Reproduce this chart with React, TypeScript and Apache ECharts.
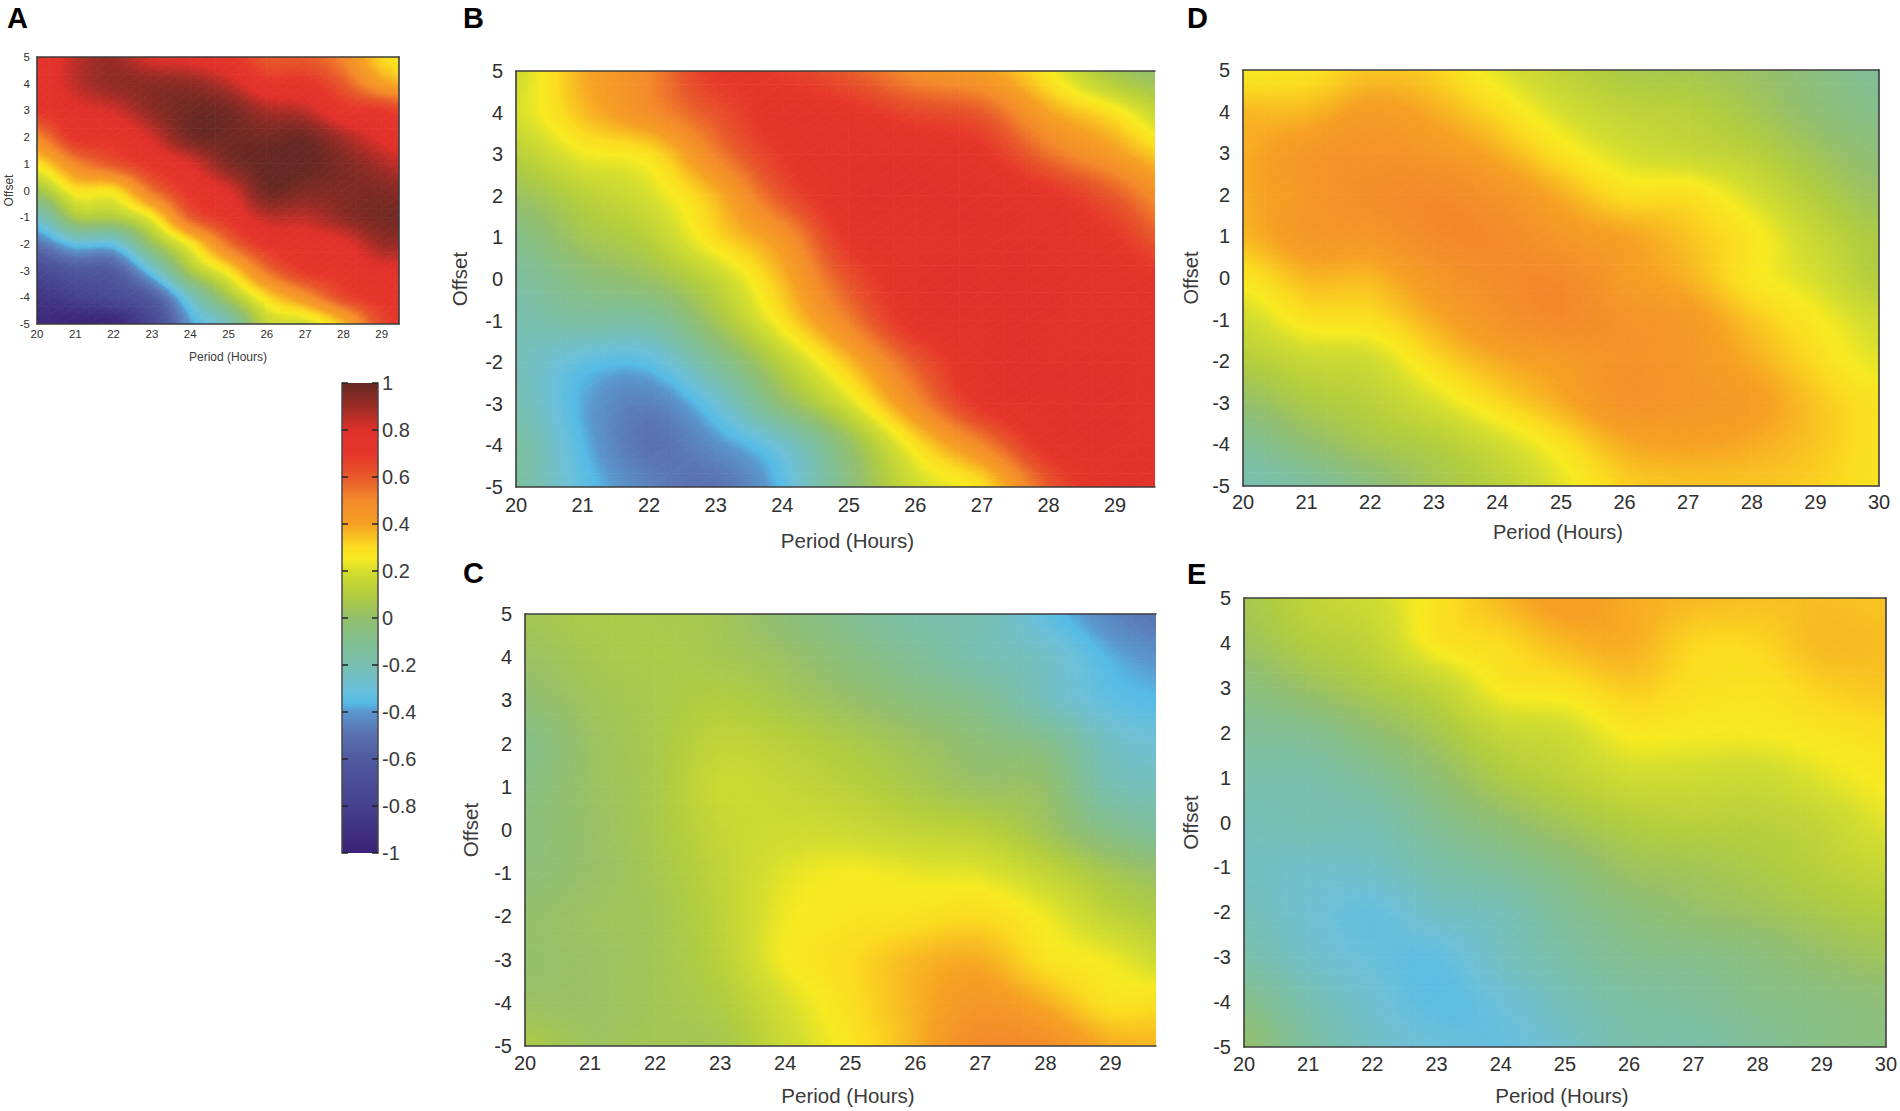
import { useEffect, useRef } from "react"
import * as echarts from "echarts"

const FONT = "Liberation Sans"

const offsetTicks = [-5, -4, -3, -2, -1, 0, 1, 2, 3, 4, 5]
const periodTicks = [20, 21, 22, 23, 24, 25, 26, 27, 28, 29, 30]

// correlation, rows run from offset 5 down to -5, columns period 20..30
const panelA = [
  [0.72, 0.85, 0.9, 0.8, 0.78, 0.72, 0.6, 0.6, 0.5, 0.3, 0.25],
  [0.72, 0.85, 0.92, 0.93, 0.92, 0.85, 0.72, 0.72, 0.6, 0.42, 0.35],
  [0.7, 0.78, 0.82, 0.92, 0.98, 0.97, 0.88, 0.85, 0.72, 0.7, 0.6],
  [0.5, 0.72, 0.72, 0.82, 0.97, 0.98, 0.97, 0.98, 0.88, 0.78, 0.72],
  [0.28, 0.5, 0.62, 0.72, 0.8, 0.95, 1, 1, 0.95, 0.88, 0.8],
  [0.05, 0.28, 0.28, 0.55, 0.72, 0.8, 0.98, 0.95, 0.95, 0.95, 0.9],
  [-0.25, 0.08, 0.1, 0.25, 0.6, 0.72, 0.85, 0.85, 0.92, 0.97, 0.95],
  [-0.5, -0.32, -0.32, 0.02, 0.26, 0.55, 0.72, 0.75, 0.78, 0.9, 0.9],
  [-0.72, -0.62, -0.6, -0.3, 0.08, 0.28, 0.55, 0.7, 0.72, 0.78, 0.75],
  [-0.88, -0.8, -0.72, -0.6, -0.25, 0.06, 0.3, 0.46, 0.65, 0.72, 0.72],
  [-0.95, -0.98, -0.98, -0.75, -0.4, -0.22, 0.15, 0.18, 0.35, 0.65, 0.7],
]
const panelB = [
  [0.18, 0.38, 0.5, 0.7, 0.68, 0.6, 0.48, 0.42, 0.26, 0.05, -0.02],
  [0.2, 0.35, 0.48, 0.62, 0.74, 0.72, 0.65, 0.6, 0.4, 0.28, 0.1],
  [0.12, 0.24, 0.28, 0.52, 0.7, 0.76, 0.76, 0.72, 0.55, 0.42, 0.28],
  [0.02, 0.12, 0.2, 0.36, 0.62, 0.76, 0.77, 0.77, 0.72, 0.6, 0.42],
  [-0.08, 0.05, 0.12, 0.3, 0.45, 0.72, 0.76, 0.77, 0.76, 0.7, 0.55],
  [-0.15, -0.05, 0.02, 0.15, 0.36, 0.62, 0.76, 0.77, 0.77, 0.75, 0.7],
  [-0.2, -0.15, -0.15, 0.05, 0.28, 0.52, 0.74, 0.77, 0.77, 0.76, 0.75],
  [-0.22, -0.33, -0.34, -0.12, 0.12, 0.35, 0.6, 0.76, 0.77, 0.77, 0.76],
  [-0.2, -0.38, -0.46, -0.3, -0.02, 0.2, 0.48, 0.72, 0.77, 0.77, 0.76],
  [-0.15, -0.36, -0.5, -0.42, -0.28, 0, 0.28, 0.5, 0.74, 0.77, 0.76],
  [-0.15, -0.33, -0.45, -0.5, -0.35, -0.05, 0.18, 0.28, 0.6, 0.76, 0.76],
]
const panelC = [
  [0.05, 0.08, 0.07, 0.05, -0.03, -0.1, -0.18, -0.2, -0.33, -0.44, -0.5],
  [0.02, 0.06, 0.08, 0.06, 0.02, -0.05, -0.12, -0.2, -0.25, -0.37, -0.42],
  [-0.02, 0.04, 0.07, 0.1, 0.06, 0.01, -0.05, -0.1, -0.23, -0.33, -0.36],
  [-0.08, 0.02, 0.07, 0.14, 0.12, 0.08, 0.03, -0.03, -0.08, -0.25, -0.3],
  [-0.06, 0.02, 0.07, 0.17, 0.15, 0.12, 0.07, 0.02, 0, -0.2, -0.22],
  [-0.04, 0.01, 0.07, 0.15, 0.18, 0.17, 0.14, 0.12, 0.04, -0.08, -0.15],
  [-0.03, 0.01, 0.06, 0.14, 0.22, 0.25, 0.23, 0.22, 0.15, 0.06, 0],
  [0, 0.03, 0.05, 0.13, 0.24, 0.27, 0.28, 0.3, 0.24, 0.14, 0.08],
  [0, 0.02, 0.05, 0.12, 0.25, 0.3, 0.36, 0.38, 0.28, 0.24, 0.16],
  [0.02, 0.02, 0.05, 0.09, 0.2, 0.29, 0.37, 0.44, 0.38, 0.28, 0.3],
  [0.08, 0.03, 0.05, 0.06, 0.17, 0.27, 0.37, 0.5, 0.48, 0.38, 0.36],
]
const panelD = [
  [0.26, 0.28, 0.34, 0.32, 0.22, 0.14, 0.08, 0.06, 0.02, -0.05, -0.12],
  [0.36, 0.36, 0.42, 0.38, 0.3, 0.2, 0.14, 0.12, 0.06, -0.02, -0.08],
  [0.38, 0.44, 0.46, 0.44, 0.38, 0.28, 0.2, 0.16, 0.12, 0.04, -0.03],
  [0.38, 0.44, 0.48, 0.5, 0.46, 0.38, 0.29, 0.29, 0.2, 0.1, 0.02],
  [0.36, 0.44, 0.44, 0.5, 0.5, 0.44, 0.4, 0.34, 0.27, 0.16, 0.08],
  [0.27, 0.36, 0.36, 0.44, 0.49, 0.5, 0.42, 0.37, 0.27, 0.2, 0.1],
  [0.18, 0.28, 0.29, 0.38, 0.46, 0.5, 0.46, 0.43, 0.34, 0.26, 0.18],
  [0.1, 0.16, 0.18, 0.3, 0.38, 0.42, 0.46, 0.44, 0.38, 0.3, 0.22],
  [0, 0.08, 0.12, 0.2, 0.3, 0.38, 0.46, 0.44, 0.42, 0.34, 0.28],
  [-0.12, -0.02, 0.06, 0.1, 0.18, 0.28, 0.38, 0.4, 0.38, 0.34, 0.28],
  [-0.2, -0.15, -0.05, 0.05, 0.12, 0.22, 0.32, 0.34, 0.34, 0.32, 0.28],
]
const panelE = [
  [0.06, 0.14, 0.18, 0.28, 0.36, 0.42, 0.38, 0.36, 0.35, 0.35, 0.34],
  [0.03, 0.1, 0.14, 0.27, 0.3, 0.36, 0.38, 0.31, 0.31, 0.36, 0.35],
  [-0.05, 0.02, 0.08, 0.14, 0.26, 0.28, 0.33, 0.29, 0.28, 0.32, 0.34],
  [-0.12, -0.1, -0.02, 0.06, 0.15, 0.18, 0.26, 0.25, 0.25, 0.27, 0.29],
  [-0.18, -0.18, -0.12, -0.02, 0.08, 0.13, 0.18, 0.18, 0.17, 0.22, 0.26],
  [-0.22, -0.2, -0.2, -0.1, -0.02, 0.05, 0.1, 0.12, 0.12, 0.15, 0.22],
  [-0.24, -0.26, -0.25, -0.18, -0.12, -0.05, 0.03, 0.05, 0.08, 0.12, 0.16],
  [-0.22, -0.28, -0.32, -0.25, -0.22, -0.12, -0.05, 0, 0.03, 0.07, 0.1],
  [-0.18, -0.26, -0.31, -0.33, -0.24, -0.17, -0.1, -0.08, -0.05, 0, 0.04],
  [-0.08, -0.2, -0.28, -0.34, -0.3, -0.22, -0.16, -0.13, -0.08, -0.06, -0.03],
  [0, -0.15, -0.25, -0.3, -0.32, -0.26, -0.18, -0.18, -0.12, -0.07, -0.05],
]

const colorbarTicks = [-1, -0.8, -0.6, -0.4, -0.2, 0, 0.2, 0.4, 0.6, 0.8, 1]
const colormapValues = [-1, -0.8, -0.6, -0.5, -0.4, -0.36, -0.3, -0.2, -0.1, 0, 0.1, 0.2, 0.25, 0.3, 0.4, 0.5, 0.6, 0.7, 0.8, 0.9, 1]
const colormapColors = [
  "#3a2176", "#45408e", "#4f5a9f", "#5a6fb0", "#5a96cc", "#55bbe6", "#6cc0d8", "#78bfb0", "#82bf90",
  "#94bf6c", "#b2cd3e", "#d5de2e", "#f7ea20", "#fbdc1f", "#f6a023", "#f48a2a", "#e8582a", "#e6352a",
  "#e0302a", "#9a2b25", "#652822",
]

const panels = [
  { key: "A", data: panelA, left: 37, top: 57, right: 399, bottom: 324, xMax: 29.45, fontSize: 11.5, nameSize: 12, labelMargin: 4, yMargin: 7, nameGapX: 27, nameGapY: 22, namePad: [0, 0, 0, 20], frameRight: true },
  { key: "B", data: panelB, left: 516, top: 71, right: 1155, bottom: 487, xMax: 29.6, fontSize: 20, nameSize: 20.5, labelMargin: 8, yMargin: 13, nameGapX: 43, nameGapY: 46, namePad: [0, 0, 0, 24], frameRight: false },
  { key: "C", data: panelC, left: 525, top: 614, right: 1156, bottom: 1046, xMax: 29.7, fontSize: 20, nameSize: 20.5, labelMargin: 7, yMargin: 13, nameGapX: 39, nameGapY: 44, namePad: [0, 0, 0, 15], frameRight: false },
  { key: "D", data: panelD, left: 1243, top: 70, right: 1879, bottom: 486, xMax: 30, fontSize: 20, nameSize: 20, labelMargin: 6, yMargin: 13, nameGapX: 36, nameGapY: 42, namePad: [0, 6, 0, 0], frameRight: true },
  { key: "E", data: panelE, left: 1244, top: 598, right: 1888, bottom: 1047, xMax: 30, fontSize: 20, nameSize: 20.5, labelMargin: 7, yMargin: 13, nameGapX: 38, nameGapY: 43, namePad: [0, 6, 0, 0], frameRight: true },
]

const panelLetters = [
  { text: "A", x: 7, y: 18 },
  { text: "B", x: 463, y: 18 },
  { text: "C", x: 463, y: 573 },
  { text: "D", x: 1187, y: 18 },
  { text: "E", x: 1187, y: 574 },
]

const colorOf = (v: number) => {
  if (v <= colormapValues[0]) return colormapColors[0]
  for (let i = 1; i < colormapValues.length; i++) {
    if (v <= colormapValues[i]) {
      const t = (v - colormapValues[i - 1]) / (colormapValues[i] - colormapValues[i - 1])
      return echarts.color.lerp(t, [colormapColors[i - 1], colormapColors[i]]) as string
    }
  }
  return colormapColors[colormapColors.length - 1]
}

const catmull = (a: number, b: number, c: number, d: number, t: number) =>
  0.5 * (2 * b + (c - a) * t + (2 * a - 5 * b + 4 * c - d) * t * t + (3 * b - a - 3 * c + d) * t * t * t)

// render-time shading between the read values, like MATLAB's "shading interp"
const shadeAt = (grid: number[][], col: number, row: number, u: number, v: number) => {
  const at = (r: number, c: number) => grid[Math.max(0, Math.min(10, r))][Math.max(0, Math.min(10, c))]
  const rows = [-1, 0, 1, 2].map((dr) =>
    catmull(at(row + dr, col - 1), at(row + dr, col), at(row + dr, col + 1), at(row + dr, col + 2), u)
  )
  return catmull(rows[0], rows[1], rows[2], rows[3], v)
}

// a triangle whose value runs linearly across it is one linear gradient through the colormap
const triangleFill = (p: number[][], vals: number[]) => {
  const lo = Math.min(...vals)
  const hi = Math.max(...vals)
  if (hi - lo < 0.0005) return colorOf(lo)
  const d1 = [p[1][0] - p[0][0], p[1][1] - p[0][1]]
  const d2 = [p[2][0] - p[0][0], p[2][1] - p[0][1]]
  const det = d1[0] * d2[1] - d2[0] * d1[1]
  const gx = ((vals[1] - vals[0]) * d2[1] - (vals[2] - vals[0]) * d1[1]) / det
  const gy = ((vals[2] - vals[0]) * d1[0] - (vals[1] - vals[0]) * d2[0]) / det
  const norm = gx * gx + gy * gy
  const start = p[vals.indexOf(lo)]
  const stops = [{ offset: 0, color: colorOf(lo) }]
  colormapValues.forEach((cv, i) => {
    if (cv > lo && cv < hi) stops.push({ offset: (cv - lo) / (hi - lo), color: colormapColors[i] })
  })
  stops.push({ offset: 1, color: colorOf(hi) })
  return new echarts.graphic.LinearGradient(
    start[0],
    start[1],
    start[0] + (gx * (hi - lo)) / norm,
    start[1] + (gy * (hi - lo)) / norm,
    stops,
    true
  )
}

const SUB = 3

const renderCell = (grid: number[][]) => (params: any, api: any) => {
  const col = api.value(0)
  const row = api.value(1)
  const children: any[] = []
  for (let i = 0; i < SUB; i++) {
    for (let j = 0; j < SUB; j++) {
      const corner = (a: number, b: number) => {
        const u = (i + a) / SUB
        const v = (j + b) / SUB
        return {
          p: api.coord([periodTicks[col] + u, offsetTicks[10 - row] - v]),
          v: shadeAt(grid, col, row, u, v),
        }
      }
      const tl = corner(0, 0)
      const tr = corner(1, 0)
      const bl = corner(0, 1)
      const br = corner(1, 1)
      ;[
        [tl, tr, bl],
        [tr, br, bl],
      ].forEach((tri) => {
        const pts = tri.map((t) => t.p)
        const fill = triangleFill(pts, tri.map((t) => t.v))
        children.push({
          type: "polygon",
          silent: true,
          shape: { points: pts },
          style: { fill, stroke: fill, lineWidth: 0.8 },
        })
      })
    }
  }
  return { type: "group", children }
}

const renderColorbar = (params: any, api: any) => {
  const top = api.coord([0, 1])
  const bottom = api.coord([1, -1])
  const stops = colormapValues.map((v, i) => ({ offset: (1 - v) / 2, color: colormapColors[i] })).reverse()
  return {
    type: "rect",
    silent: true,
    shape: { x: top[0], y: top[1], width: bottom[0] - top[0], height: bottom[1] - top[1] },
    style: { fill: new echarts.graphic.LinearGradient(0, 0, 0, 1, stops) },
  }
}

const App = () => {
  const chartRef = useRef<HTMLDivElement>(null)

  useEffect(() => {
    if (!chartRef.current) return
    document.body.style.margin = "0"
    const chart = echarts.init(chartRef.current, undefined, { renderer: "svg" })

    const grid: any[] = []
    const xAxis: any[] = []
    const yAxis: any[] = []
    const series: any[] = []
    const frame = { lineStyle: { color: "#3d3d3d", width: 1.6 } }

    panels.forEach((p, index) => {
      grid.push({ left: p.left, top: p.top, width: p.right - p.left, height: p.bottom - p.top })
      const labelStyle = { color: "#2f2f2f", fontFamily: FONT, fontSize: p.fontSize }
      const nameStyle = { color: "#3a3a3a", fontFamily: FONT, fontSize: p.nameSize }
      const xBase = { gridIndex: index, type: "value", min: 20, max: p.xMax, interval: 1, splitLine: { show: false }, axisTick: { show: false }, z: 5 }
      const yBase = { gridIndex: index, type: "value", min: -5, max: 5, interval: 1, splitLine: { show: false }, axisTick: { show: false }, z: 5 }
      const xIndex = xAxis.length
      const yIndex = yAxis.length
      xAxis.push({
        ...xBase,
        position: "bottom",
        name: "Period (Hours)",
        nameLocation: "middle",
        nameGap: p.nameGapX,
        nameTextStyle: { ...nameStyle, padding: p.namePad },
        axisLine: { onZero: false, ...frame },
        axisLabel: {
          ...labelStyle,
          margin: p.labelMargin,
          showMinLabel: true,
          formatter: (v: number) => (Number.isInteger(v) ? String(v) : ""),
        },
      })
      xAxis.push({ ...xBase, position: "top", axisLine: { onZero: false, ...frame }, axisLabel: { show: false } })
      yAxis.push({
        ...yBase,
        position: "left",
        name: "Offset",
        nameLocation: "middle",
        nameRotate: 90,
        nameGap: p.nameGapY,
        nameTextStyle: nameStyle,
        axisLine: { onZero: false, ...frame },
        axisLabel: { ...labelStyle, margin: p.yMargin, padding: [8, 0, 0, 0] },
      })
      if (p.frameRight) {
        yAxis.push({ ...yBase, position: "right", axisLine: { onZero: false, ...frame }, axisLabel: { show: false } })
      }
      const cells: number[][] = []
      periodTicks.slice(0, -1).forEach((_, col) => {
        offsetTicks.slice(0, -1).forEach((_, row) => cells.push([col, row]))
      })
      series.push({
        type: "custom",
        name: p.key,
        xAxisIndex: xIndex,
        yAxisIndex: yIndex,
        clip: true,
        silent: true,
        data: cells,
        encode: { x: 0, y: 1 },
        renderItem: renderCell(p.data),
      })
    })

    // colorbar
    const cbIndex = panels.length
    grid.push({ left: 342, top: 383, width: 36, height: 470 })
    const cbX = xAxis.length
    xAxis.push({ gridIndex: cbIndex, type: "value", min: 0, max: 1, show: false })
    const cbY = yAxis.length
    const cbBase = {
      gridIndex: cbIndex,
      type: "value",
      min: colorbarTicks[0],
      max: colorbarTicks[colorbarTicks.length - 1],
      interval: 0.2,
      splitLine: { show: false },
      axisTick: { show: true, inside: true, length: 6, lineStyle: { color: "#222", width: 1.5 } },
      axisLine: { onZero: false, lineStyle: { color: "#4a4a4a", width: 1.5 } },
      z: 5,
    }
    yAxis.push({
      ...cbBase,
      position: "right",
      axisLabel: {
        color: "#3a3a3a",
        fontFamily: FONT,
        fontSize: 20,
        margin: 4,
        formatter: (v: number) => String(Math.round(v * 10) / 10),
      },
    })
    yAxis.push({ ...cbBase, position: "left", axisLabel: { show: false } })
    series.push({
      type: "custom",
      name: "colorbar",
      xAxisIndex: cbX,
      yAxisIndex: cbY,
      silent: true,
      data: [[0, 0]],
      renderItem: renderColorbar,
    })

    chart.setOption({
      animation: false,
      backgroundColor: "#ffffff",
      grid,
      xAxis,
      yAxis,
      series,
      graphic: panelLetters.map((l) => ({
        type: "text",
        x: l.x,
        y: l.y,
        silent: true,
        style: {
          text: l.text,
          fill: "#000",
          fontFamily: FONT,
          fontWeight: "bold",
          fontSize: 29,
          verticalAlign: "middle",
        },
      })),
    })

    return () => {
      chart.dispose()
    }
  }, [])

  return <div ref={chartRef} style={{ width: 1900, height: 1111 }} />
}

export default App
